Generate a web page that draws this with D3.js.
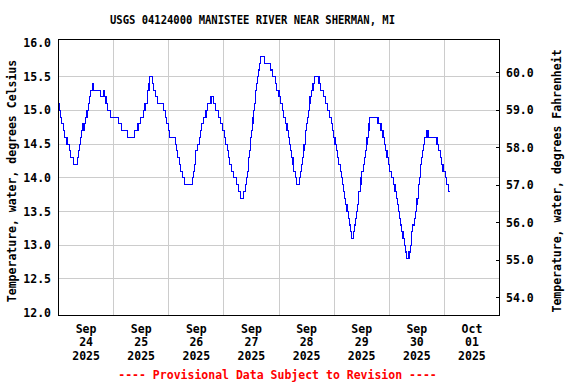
<!DOCTYPE html>
<html>
<head>
<meta charset="utf-8">
<script src="https://cdn.jsdelivr.net/npm/d3@7"></script>
<style>
  body { margin: 0; background: #fff; }
  text { font-family: "DejaVu Sans Mono", monospace; font-weight: bold; }
</style>
</head>
<body>
<svg width="576" height="384"></svg>
<script>
// hours since 2025-09-24 00:00 at which the reading changed, and the new reading (deg C)
const hours = [
  0, 0.2, 0.8, 1.4, 2.2, 2.8, 3.7, 4.6, 5.4, 6.6, 8.2, 8.6, 9.1, 9.6, 10.2, 10.5, 10.7, 11.1,
  11.8, 12.4, 13.0, 13.6, 14.1, 14.7, 15.4, 18.2, 19.5, 19.9, 20.7, 21.5, 22.8, 26.2, 27.6, 30.1,
  33.2, 34.6, 35.7, 37.2, 37.5, 37.7, 38.0, 38.6, 38.9, 39.4, 39.8, 40.8, 41.2, 42.4, 43.0, 45.9,
  46.5, 47.1, 47.9, 48.5, 50.8, 51.4, 52.0, 52.6, 53.2, 54.0, 54.9, 58.2, 58.9, 59.2, 59.5, 59.8,
  60.7, 61.3, 61.9, 62.4, 63.0, 64.2, 64.7, 66.4, 67.6, 68.5, 69.5, 70.6, 71.5, 72.3, 72.9, 73.4,
  74.0, 74.6, 75.3, 76.2, 77.4, 78.5, 79.4, 80.5, 81.3, 81.8, 82.2, 82.6, 82.9, 83.2, 83.4, 83.7,
  84.2, 84.5, 84.7, 85.0, 85.3, 85.6, 85.9, 86.3, 86.6, 87.1, 87.5, 88.1, 89.5, 92.4, 93.2, 94.3,
  94.9, 96.0, 96.6, 97.5, 98.1, 99.0, 99.5, 100.0, 100.4, 101.0, 101.6, 102.1, 102.4, 103.0, 103.6, 105.0,
  105.5, 105.9, 106.2, 106.5, 106.9, 107.4, 107.7, 108.1, 108.5, 108.8, 109.1, 109.5, 110.1, 110.8, 111.4, 113.4,
  114.0, 115.5, 116.4, 117.2, 117.8, 118.7, 119.3, 119.8, 120.4, 121.0, 121.6, 122.1, 122.7, 123.3, 123.6, 124.1,
  124.5, 125.1, 125.6, 126.2, 126.8, 127.1, 127.4, 128.5, 128.8, 129.3, 129.7, 130.3, 130.6, 130.8, 131.3, 131.7,
  132.1, 132.6, 133.2, 133.6, 133.9, 134.3, 134.8, 135.2, 135.5, 139.1, 140.4, 141.3, 141.9, 142.5, 143.0, 143.6,
  144.2, 144.8, 145.9, 146.5, 147.1, 147.7, 148.2, 148.5, 148.8, 149.4, 150.0, 150.6, 150.9, 151.5, 152.6, 153.2,
  153.5, 153.8, 154.3, 154.9, 155.5, 155.9, 156.1, 156.7, 156.9, 157.2, 157.5, 157.8, 157.9, 158.4, 159.0, 159.5,
  160.2, 160.5, 160.7, 161.0, 164.8, 165.6, 166.2, 166.8, 167.4, 168.3, 169.1, 169.9, 170.4
];
const tempC = [
  15.1, 15.0, 14.9, 14.8, 14.7, 14.6, 14.5, 14.4, 14.3, 14.2, 14.3, 14.4, 14.5, 14.6, 14.7, 14.8, 14.7, 14.8,
  14.9, 15.0, 15.1, 15.2, 15.3, 15.4, 15.3, 15.2, 15.3, 15.2, 15.1, 15.0, 14.9, 14.8, 14.7, 14.6,
  14.7, 14.8, 14.9, 15.0, 15.1, 15.0, 15.1, 15.2, 15.3, 15.4, 15.5, 15.4, 15.3, 15.2, 15.1, 15.0,
  14.9, 14.8, 14.7, 14.6, 14.5, 14.4, 14.3, 14.2, 14.1, 14.0, 13.9, 14.0, 14.1, 14.2, 14.3, 14.4,
  14.5, 14.6, 14.7, 14.8, 14.9, 15.0, 15.1, 15.2, 15.1, 15.0, 14.9, 14.8, 14.7, 14.6, 14.5, 14.4,
  14.3, 14.2, 14.1, 14.0, 13.9, 13.8, 13.7, 13.8, 13.9, 14.0, 14.1, 14.2, 14.3, 14.4, 14.5, 14.6,
  14.7, 14.8, 14.9, 15.0, 15.1, 15.2, 15.3, 15.4, 15.5, 15.6, 15.7, 15.8, 15.7, 15.6, 15.5, 15.4,
  15.3, 15.2, 15.1, 15.0, 14.9, 14.8, 14.7, 14.6, 14.5, 14.4, 14.3, 14.2, 14.1, 14.0, 13.9, 14.0,
  14.1, 14.2, 14.3, 14.4, 14.5, 14.6, 14.7, 14.8, 14.9, 15.0, 15.1, 15.2, 15.3, 15.4, 15.5, 15.4,
  15.3, 15.2, 15.1, 15.0, 14.9, 14.8, 14.7, 14.6, 14.5, 14.4, 14.3, 14.2, 14.1, 14.0, 13.9, 13.8,
  13.7, 13.6, 13.5, 13.4, 13.3, 13.2, 13.1, 13.2, 13.3, 13.4, 13.5, 13.6, 13.7, 13.8, 13.9, 14.0,
  14.1, 14.2, 14.3, 14.4, 14.5, 14.6, 14.7, 14.8, 14.9, 14.8, 14.7, 14.6, 14.5, 14.4, 14.3, 14.2,
  14.1, 14.0, 13.9, 13.8, 13.7, 13.6, 13.5, 13.4, 13.3, 13.2, 13.1, 13.0, 12.9, 12.8, 12.9, 13.0,
  13.1, 13.2, 13.3, 13.4, 13.5, 13.6, 13.7, 13.8, 13.9, 14.0, 14.1, 14.2, 14.3, 14.4, 14.5, 14.6,
  14.7, 14.6, 14.7, 14.6, 14.5, 14.4, 14.3, 14.2, 14.1, 14.0, 13.9, 13.8, 13.8
];
const dayTicks = ["2025-09-24", "2025-09-25", "2025-09-26", "2025-09-27",
                  "2025-09-28", "2025-09-29", "2025-09-30", "2025-10-01"];
const celsiusTicks = [12.0, 12.5, 13.0, 13.5, 14.0, 14.5, 15.0, 15.5, 16.0];
const fahrenheitTicks = [54, 55, 56, 57, 58, 59, 60];

const titleText = "USGS 04124000 MANISTEE RIVER NEAR SHERMAN, MI";
const leftTitle = "Temperature, water, degrees Celsius";
const rightTitle = "Temperature, water, degrees Fahrenheit";
const footText = "---- Provisional Data Subject to Revision ----";

const svg = d3.select("svg");
const plotLeft = 58.5, plotRight = 499.5, plotTop = 39.5, plotBottom = 315;

const start = Date.UTC(2025, 8, 24);
const x = d3.scaleUtc()
  .domain([new Date(start), new Date(Date.UTC(2025, 9, 2))])
  .range([plotLeft, plotRight]);
const y = d3.scaleLinear().domain([12, 16]).range([312.7, 43]);
const yF = d3.scaleLinear().domain([12 * 1.8 + 32, 16 * 1.8 + 32]).range([312.7, 43]);

const data = hours.map((h, i) => ({ t: new Date(start + h * 3600e3), v: tempC[i] }));
const days = dayTicks.map(d => new Date(d + "T00:00:00Z"));
const halfDay = (x(days[1]) - x(days[0])) / 2;

// grid
const grid = svg.append("g")
  .attr("stroke", "#cccccc")
  .attr("stroke-width", 1)
  .attr("shape-rendering", "crispEdges");

grid.selectAll(".h")
  .data(celsiusTicks.slice(1, -1))
  .join("line")
    .attr("class", "h")
    .attr("x1", plotLeft).attr("x2", plotRight)
    .attr("y1", d => y(d)).attr("y2", d => y(d));

grid.selectAll(".v")
  .data(days.slice(1))
  .join("line")
    .attr("class", "v")
    .attr("x1", d => x(d)).attr("x2", d => x(d))
    .attr("y1", plotTop).attr("y2", plotBottom);

// data line
const line = d3.line()
  .x(d => x(d.t))
  .y(d => y(d.v))
  .curve(d3.curveStepAfter);

svg.append("path")
  .datum(data)
  .attr("fill", "none")
  .attr("stroke", "#0000ff")
  .attr("stroke-width", 1.1)
  .attr("shape-rendering", "crispEdges")
  .attr("d", line);

// frame
svg.append("rect")
  .attr("x", plotLeft).attr("y", plotTop)
  .attr("width", plotRight - plotLeft).attr("height", plotBottom - plotTop)
  .attr("fill", "none")
  .attr("stroke", "#000")
  .attr("shape-rendering", "crispEdges");

// left axis labels
svg.append("g")
  .selectAll("text")
  .data(celsiusTicks)
  .join("text")
    .attr("x", 51)
    .attr("y", d => y(d) + 4)
    .attr("text-anchor", "end")
    .attr("font-size", 11.5)
    .text(d3.format(".1f"));

// right axis ticks and labels
const rightG = svg.append("g");
rightG.selectAll("line")
  .data(fahrenheitTicks)
  .join("line")
    .attr("x1", plotRight - 4).attr("x2", plotRight)
    .attr("y1", d => yF(d)).attr("y2", d => yF(d))
    .attr("stroke", "#000")
    .attr("shape-rendering", "crispEdges");
rightG.selectAll("text")
  .data(fahrenheitTicks)
  .join("text")
    .attr("x", 506)
    .attr("y", d => yF(d) + 4)
    .attr("font-size", 11.5)
    .text(d3.format(".1f"));

// x labels, centred on each day
const xl = svg.append("g")
  .selectAll("text")
  .data(days)
  .join("text")
    .attr("x", d => x(d) + halfDay)
    .attr("y", 333)
    .attr("text-anchor", "middle")
    .attr("font-size", 11.5);
xl.append("tspan").text(d3.utcFormat("%b"));
xl.append("tspan").attr("x", d => x(d) + halfDay).attr("dy", 13.4).text(d3.utcFormat("%d"));
xl.append("tspan").attr("x", d => x(d) + halfDay).attr("dy", 13.4).text(d3.utcFormat("%Y"));

// titles
svg.append("text")
  .attr("x", 110).attr("y", 24)
  .attr("font-size", 11.5)
  .attr("textLength", 285)
  .attr("lengthAdjust", "spacingAndGlyphs")
  .text(titleText);

svg.append("text")
  .attr("transform", "translate(16,181) rotate(-90)")
  .attr("text-anchor", "middle")
  .attr("font-size", 11.5)
  .text(leftTitle);

svg.append("text")
  .attr("transform", "translate(561,181) rotate(-90)")
  .attr("text-anchor", "middle")
  .attr("font-size", 11.5)
  .text(rightTitle);

svg.append("text")
  .attr("x", 277.5).attr("y", 379)
  .attr("text-anchor", "middle")
  .attr("font-size", 11.5)
  .attr("fill", "#ff0000")
  .text(footText);
</script>
</body>
</html>
